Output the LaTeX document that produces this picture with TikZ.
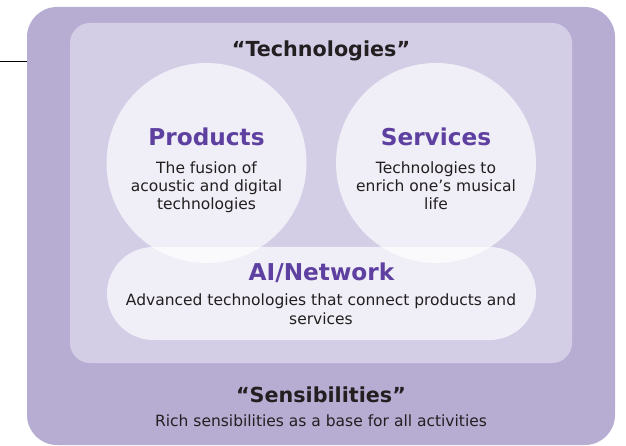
\documentclass[tikz,border=0pt]{standalone}
\usepackage{fontspec}
\setmainfont{DejaVu Sans}
\usetikzlibrary{positioning}
\definecolor{outerc}{RGB}{183,173,211}
\definecolor{innerc}{RGB}{211,205,230}
\definecolor{titlec}{RGB}{94,64,160}
\definecolor{textc}{RGB}{35,31,32}
\tikzset{
  bubble/.style={circle, fill=white, fill opacity=0.68, draw=none, minimum size=200bp, inner sep=0},
  pill/.style={rectangle, rounded corners=46.5bp, fill=white, fill opacity=0.68, draw=none, minimum width=429bp, minimum height=93bp, inner sep=0},
  headt/.style={anchor=base, text=titlec, font=\fontsize{23.2bp}{27bp}\selectfont\bfseries, inner sep=0},
  bigt/.style={anchor=base, text=textc, font=\fontsize{20.7bp}{24bp}\selectfont\bfseries, inner sep=0},
  bodyt/.style={anchor=base, text=textc, align=center, font=\fontsize{15.5bp}{18.2bp}\selectfont, inner sep=0},
}
\begin{document}
\begin{tikzpicture}[x=1bp,y=-1bp]
\useasboundingbox (0,0) rectangle (626,446);
\fill[outerc, rounded corners=30bp] (27,7) rectangle (615,445);
\fill[innerc, rounded corners=20bp] (70,23) rectangle (572,363);
\coordinate (lineA) at (0,61);
\coordinate (lineB) at (27,61);
\draw[black, line width=0.8bp] (lineA) -- (lineB);
\node[bubble] (prod) at (206.5,163) {};
\node[bubble] (serv) at (436,163) {};
\node[pill] (ai) at (321.5,293.5) {};
\node[bigt] (tech) at (321,57) {“Technologies”};
\node[headt] (prodt) at (206.5,146) {Products};
\node[bodyt] (prodb) at (206.5,210) {The fusion of\\acoustic and digital\\technologies};
\node[headt] (servt) at (436,146) {Services};
\node[bodyt] (servb) at (436,210) {Technologies to\\enrich one’s musical\\life};
\node[headt] (ait) at (321.5,281) {AI/Network};
\node[bodyt] (aib) at (321,324) {Advanced technologies that connect products and\\services};
\node[bigt] (sens) at (321,402) {“Sensibilities”};
\node[bodyt] (sensb) at (321,426) {Rich sensibilities as a base for all activities};
\end{tikzpicture}
\end{document}
